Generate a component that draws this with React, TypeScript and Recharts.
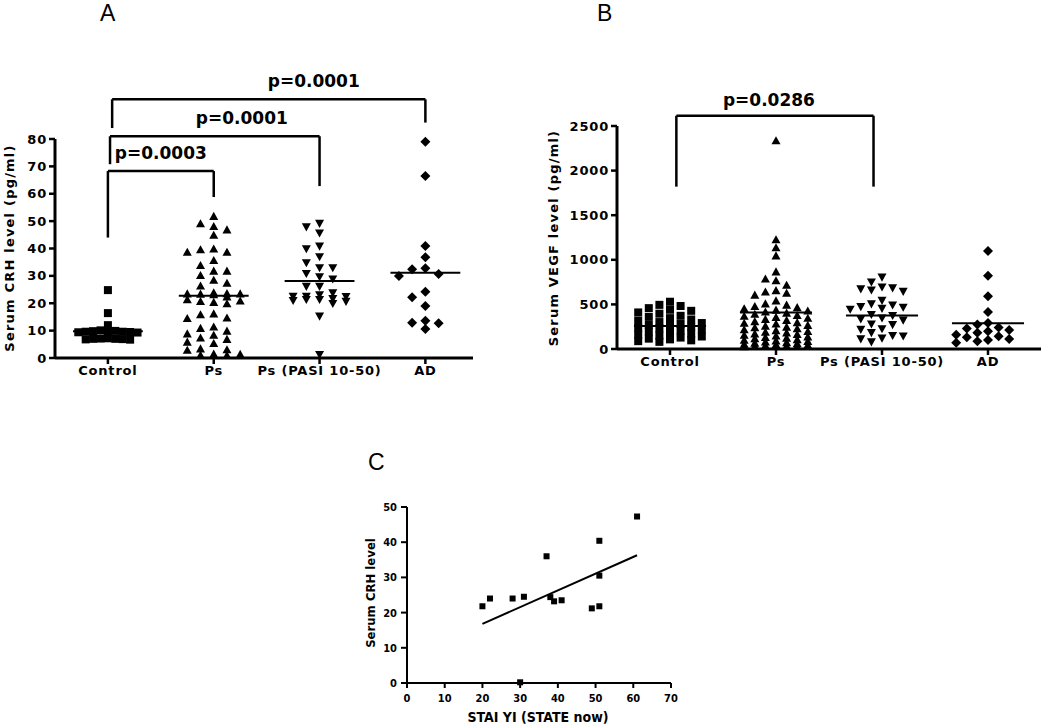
import React from "react";
import { ReferenceLine, Scatter, ScatterChart, XAxis, YAxis } from "recharts";

const categories = ["Control", "Ps", "Ps (PASI 10-50)", "AD"];

// panel A: serum CRH (pg/ml)
const crhControl = [24.8, 16.4, 12, 10.1, 9.8, 9.6, 9.5, 9.4, 9.6, 9.9, 9.3, 9.7, 7.1, 6.8, 7, 6.9, 7.2, 6.7, 7];
const crhPs = [
  51.9, 49.2, 48.2, 47, 45, 40, 39.7, 38.8, 38.8, 35.8, 34, 31.9, 31.9, 30.3, 28.6, 27.5, 26.5, 24, 23.7, 23.6,
  23.6, 23.5, 23.3, 22.5, 21.5, 21, 20.8, 20.5, 20, 16.3, 16, 14.6, 14.8, 11.5, 11, 10, 9, 8.5, 7.5, 7, 6, 5.5,
  3.5, 3, 3.2, 1.6, 1.2, 1.1, 1.5,
];
const crhPasi = [
  49, 47.7, 45.5, 40.7, 39.7, 36.8, 34.6, 32.8, 32.8, 30.7, 29.5, 28.7, 26, 26, 23.6, 22.9, 22.4, 22.4, 22.3,
  21.5, 21.2, 21.2, 20.8, 20.5, 19.7, 15.1, 1.1,
];
const crhAd = [79, 66.5, 40.9, 36.8, 32.8, 32.4, 30.7, 30, 24.2, 22.2, 19, 13.6, 12.9, 12.7, 10.6];
const crhMeans = [9.8, 22.7, 28.1, 31.1];
const crhTicks = [0, 10, 20, 30, 40, 50, 60, 70, 80];
const crhBrackets = [
  { label: "p=0.0003", from: 0, to: 1, top: 68.3, leftEnd: 44, rightEnd: 58.8 },
  { label: "p=0.0001", from: 0.02, to: 2, top: 81, leftEnd: 70.8, rightEnd: 62.8 },
  { label: "p=0.0001", from: 0.04, to: 3, top: 94.5, leftEnd: 84, rightEnd: 86 },
];
const crhLabelShift = [0, 27, 45];

// panel B: serum VEGF (pg/ml)
const vegfControl = [
  530, 495, 482, 458, 440, 428, 410, 396, 372, 360, 346, 331, 318, 302, 291, 280, 269, 262, 250, 238, 231, 217,
  206, 196, 184, 172, 161, 152, 140, 128, 116, 108, 97, 88, 80,
];
const vegfPs = [
  2340, 1230, 1140, 1050, 870, 790, 770, 720, 660, 645, 630, 610, 545, 512, 498, 482, 470, 456, 441, 432, 420,
  408, 396, 381, 372, 360, 350, 338, 326, 313, 301, 294, 286, 271, 262, 251, 244, 233, 221, 212, 201, 194, 186,
  175, 168, 160, 151, 142, 134, 127, 120, 111, 104, 97, 91, 84, 77, 71, 64, 59, 54, 49, 44, 40, 37, 34, 31,
];
const vegfPasi = [
  800, 745, 690, 680, 668, 655, 640, 540, 500, 488, 470, 462, 450, 440, 382, 370, 342, 331, 318, 275, 268, 222,
  214, 178, 146, 140, 116, 108, 74,
];
const vegfAd = [1100, 820, 590, 415, 292, 276, 242, 231, 214, 198, 181, 160, 142, 131, 112, 101, 86, 70];
const vegfMeans = [258, 410, 375, 290];
const vegfTicks = [0, 500, 1000, 1500, 2000, 2500];
const vegfBrackets = [{ label: "p=0.0286", from: 0.06, to: 1.92, top: 2615, leftEnd: 1820, rightEnd: 1820 }];
const vegfLabelShift = [-6];

// panel C: STAI YI vs serum CRH
const staiScores = [20, 22, 28, 31, 37, 38, 39, 41, 30, 49, 51, 51, 51, 61];
const staiCrh = [21.8, 24, 24, 24.5, 36, 24.4, 23.2, 23.5, 0.2, 21.2, 21.8, 30.5, 40.4, 47.3];
const fitX = [20, 61];
const fitY = [16.8, 36.3];
const staiTicks = [0, 10, 20, 30, 40, 50, 60, 70];
const staiCrhTicks = [0, 10, 20, 30, 40, 50];

const FONT = "'DejaVu Sans', sans-serif";
const NARROW = "'DejaVu Sans Condensed', 'DejaVu Sans', sans-serif";

// GraphPad-like column scatter: spread close values sideways
function swarm(values: number[], cat: number, gap: number, step: number, maxCols: number) {
  const order = [0];
  for (let k = 1; k <= maxCols; k++) order.push(-k, k);
  const cols = new Map<number, number[]>();
  const sorted = [...values].sort((a, b) => b - a);
  return sorted.map((v) => {
    let best = 0;
    let bestDist = -1;
    for (const k of order) {
      const placed = cols.get(k) ?? [];
      const d = placed.length ? Math.min(...placed.map((p) => Math.abs(p - v))) : Infinity;
      if (d >= gap) {
        best = k;
        break;
      }
      if (d > bestDist) {
        bestDist = d;
        best = k;
      }
    }
    cols.set(best, [...(cols.get(best) ?? []), v]);
    return { x: cat + best * step, y: v };
  });
}

const marker = (kind: string, s: number) => (props: any) => {
  const { cx, cy } = props;
  if (cx == null || cy == null) return <g />;
  if (kind === "square") return <rect x={cx - s / 2} y={cy - s / 2} width={s} height={s} fill="#000" />;
  const h = s * 0.9;
  let pts = "";
  if (kind === "up") pts = `${cx},${cy - h / 2} ${cx - s / 2},${cy + h / 2} ${cx + s / 2},${cy + h / 2}`;
  if (kind === "down") pts = `${cx},${cy + h / 2} ${cx - s / 2},${cy - h / 2} ${cx + s / 2},${cy - h / 2}`;
  if (kind === "diamond") pts = `${cx},${cy - s / 2} ${cx + s / 2},${cy} ${cx},${cy + s / 2} ${cx - s / 2},${cy}`;
  return <polygon points={pts} fill="#000" />;
};

const tickStyle = { fill: "#000", fontSize: 13, fontWeight: 700, fontFamily: FONT, letterSpacing: 0.8 };
const axisStyle = { stroke: "#000", strokeWidth: 3 };
const tickLineStyle = { stroke: "#000", strokeWidth: 2.5 };

const bracketLabel = (text: string, dx: number, lift: number) => (props: any) => {
  const vb = props.viewBox || {};
  return (
    <text
      x={(vb.x ?? 0) + (vb.width ?? 0) / 2 + dx}
      y={(vb.y ?? 0) - lift}
      textAnchor="middle"
      fontFamily={FONT}
      fontWeight={700}
      fontSize={17}
      fill="#000"
    >
      {text}
    </text>
  );
};

function renderBrackets(list: typeof crhBrackets, shifts: number[], lift: number) {
  return list.flatMap((b, i) => [
    <ReferenceLine
      key={`bt${i}`}
      segment={[{ x: b.from, y: b.top }, { x: b.to, y: b.top }]}
      stroke="#000"
      strokeWidth={2.5}
      ifOverflow="visible"
      label={bracketLabel(b.label, shifts[i], lift)}
    />,
    <ReferenceLine
      key={`bl${i}`}
      segment={[{ x: b.from, y: b.top }, { x: b.from, y: b.leftEnd }]}
      stroke="#000"
      strokeWidth={2.5}
      ifOverflow="visible"
    />,
    <ReferenceLine
      key={`br${i}`}
      segment={[{ x: b.to, y: b.top }, { x: b.to, y: b.rightEnd }]}
      stroke="#000"
      strokeWidth={2.5}
      ifOverflow="visible"
    />,
  ]);
}

function renderMeans(means: number[], half: number) {
  return means.map((m, i) => (
    <ReferenceLine
      key={`m${i}`}
      segment={[{ x: i - half, y: m }, { x: i + half, y: m }]}
      stroke="#000"
      strokeWidth={2}
      ifOverflow="visible"
    />
  ));
}

const AxisTitle = ({ text, x, y, rotate, font, size, spacing }: any) => (
  <div
    style={{
      position: "absolute",
      left: x,
      top: y,
      transform: `translate(-50%, -50%)${rotate ? " rotate(-90deg)" : ""}`,
      whiteSpace: "nowrap",
      fontFamily: font,
      fontWeight: 700,
      fontSize: size,
      letterSpacing: spacing,
      lineHeight: 1,
      color: "#000",
    }}
  >
    {text}
  </div>
);

const PanelTag = ({ text, x, y }: any) => (
  <div
    style={{
      position: "absolute",
      left: x,
      top: y,
      fontFamily: "'Liberation Sans', Arial, sans-serif",
      fontSize: 23,
      lineHeight: 1,
      color: "#000",
    }}
  >
    {text}
  </div>
);

export default function App() {
  const aCtrl = swarm(crhControl, 0, 2.2, 0.07, 4);
  const aPs = swarm(crhPs, 1, 2.9, 0.125, 2);
  const aPasi = swarm(crhPasi, 2, 2.9, 0.125, 2);
  const aAd = swarm(crhAd, 3, 2.9, 0.125, 2);

  const bCtrl = swarm(vegfControl, 0, 90, 0.1, 3);
  const bPs = swarm(vegfPs, 1, 90, 0.1, 3);
  const bPasi = swarm(vegfPasi, 2, 90, 0.1, 3);
  const bAd = swarm(vegfAd, 3, 90, 0.1, 3);

  const cPts = staiScores.map((x, i) => ({ x, y: staiCrh[i] }));

  return (
    <div style={{ position: "absolute", left: 0, top: 0, width: 1050, height: 727, background: "#fff" }}>
      <PanelTag text="A" x={100} y={2} />
      <PanelTag text="B" x={597} y={2} />
      <PanelTag text="C" x={368} y={451} />

      <div style={{ position: "absolute", left: 0, top: 0 }}>
        <ScatterChart width={480} height={385} margin={{ top: 139, right: 7, bottom: 7, left: 25 }}>
          <XAxis
            type="number"
            dataKey="x"
            domain={[-0.5, 3.45]}
            ticks={[0, 1, 2, 3]}
            interval={0}
            allowDataOverflow
            tickFormatter={(v: number) => categories[v] ?? ""}
            height={20}
            tick={tickStyle}
            tickSize={6}
            axisLine={axisStyle}
            tickLine={tickLineStyle}
          />
          <YAxis
            type="number"
            dataKey="y"
            domain={[0, 80]}
            ticks={crhTicks}
            interval={0}
            width={30}
            tick={tickStyle}
            tickSize={6}
            axisLine={axisStyle}
            tickLine={tickLineStyle}
          />
          <Scatter data={aCtrl} shape={marker("square", 8)} isAnimationActive={false} />
          <Scatter data={aPs} shape={marker("up", 9)} isAnimationActive={false} />
          <Scatter data={aPasi} shape={marker("down", 9)} isAnimationActive={false} />
          <Scatter data={aAd} shape={marker("diamond", 10)} isAnimationActive={false} />
          {renderMeans(crhMeans, 0.33)}
          {renderBrackets(crhBrackets, crhLabelShift, 12)}
        </ScatterChart>
      </div>

      <div style={{ position: "absolute", left: 520, top: 0 }}>
        <ScatterChart width={530} height={385} margin={{ top: 126, right: 9, bottom: 16, left: 57 }}>
          <XAxis
            type="number"
            dataKey="x"
            domain={[-0.5, 3.5]}
            ticks={[0, 1, 2, 3]}
            interval={0}
            allowDataOverflow
            tickFormatter={(v: number) => categories[v] ?? ""}
            height={20}
            tick={tickStyle}
            tickSize={6}
            axisLine={axisStyle}
            tickLine={tickLineStyle}
          />
          <YAxis
            type="number"
            dataKey="y"
            domain={[0, 2500]}
            ticks={vegfTicks}
            interval={0}
            width={40}
            tick={tickStyle}
            tickSize={6}
            axisLine={axisStyle}
            tickLine={tickLineStyle}
          />
          <Scatter data={bCtrl} shape={marker("square", 8)} isAnimationActive={false} />
          <Scatter data={bPs} shape={marker("up", 9)} isAnimationActive={false} />
          <Scatter data={bPasi} shape={marker("down", 9)} isAnimationActive={false} />
          <Scatter data={bAd} shape={marker("diamond", 10)} isAnimationActive={false} />
          {renderMeans(vegfMeans, 0.34)}
          {renderBrackets(vegfBrackets, vegfLabelShift, 10)}
        </ScatterChart>
      </div>

      <div style={{ position: "absolute", left: 340, top: 450 }}>
        <ScatterChart width={360} height={277} margin={{ top: 57, right: 29, bottom: 24, left: 42 }}>
          <XAxis
            type="number"
            dataKey="x"
            domain={[0, 70]}
            ticks={staiTicks}
            interval={0}
            height={20}
            tick={{ fill: "#000", fontSize: 11, fontWeight: 700, fontFamily: NARROW }}
            tickSize={5}
            tickMargin={6}
            axisLine={{ stroke: "#000", strokeWidth: 2 }}
            tickLine={{ stroke: "#000", strokeWidth: 2 }}
          />
          <YAxis
            type="number"
            dataKey="y"
            domain={[0, 50]}
            ticks={staiCrhTicks}
            interval={0}
            width={25}
            tick={{ fill: "#000", fontSize: 11, fontWeight: 700, fontFamily: NARROW }}
            tickSize={6}
            tickMargin={4}
            axisLine={{ stroke: "#000", strokeWidth: 2 }}
            tickLine={{ stroke: "#000", strokeWidth: 2 }}
          />
          <ReferenceLine
            segment={[{ x: fitX[0], y: fitY[0] }, { x: fitX[1], y: fitY[1] }]}
            stroke="#000"
            strokeWidth={2}
          />
          <Scatter data={cPts} shape={marker("square", 6)} isAnimationActive={false} />
        </ScatterChart>
      </div>

      <AxisTitle text="Serum CRH level (pg/ml)" x={9} y={248} rotate font={FONT} size={13} spacing={1.2} />
      <AxisTitle text="Serum VEGF level (pg/ml)" x={553} y={238} rotate font={FONT} size={13} spacing={1.2} />
      <AxisTitle text="Serum CRH level" x={370} y={593} rotate font={NARROW} size={13} spacing={0} />
      <AxisTitle text="STAI YI (STATE now)" x={538} y={717} font={NARROW} size={14} spacing={0} />
    </div>
  );
}
